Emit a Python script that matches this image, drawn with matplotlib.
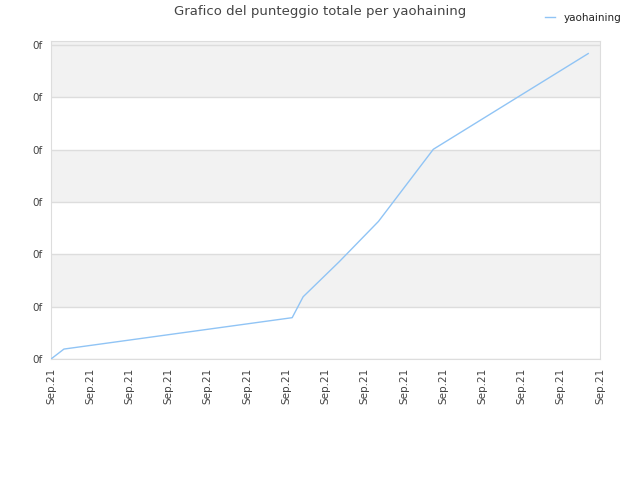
import matplotlib
matplotlib.use("Agg")
import matplotlib.pyplot as plt
import numpy as np

# values (x in tick units, y in gridline units)
xs = [0, 0.33, 6.15, 6.43, 7.35, 8.35, 9.75, 13.7]
ys = [0, 0.19, 0.79, 1.19, 1.86, 2.63, 4.01, 5.84]
xlabels = ["Sep.21"] * 15
ylabels = ["0f"] * 7
series_name = "yaohaining"
title = "Grafico del punteggio totale per yaohaining"

fig = plt.figure(figsize=(6.4, 4.8), dpi=100)
ax = fig.add_axes([51/640, 1-359/480, 549/640, 318/480])

ymax = 6.08
# alternating bands (top strip above the last gridline is grey too)
for i in range(1, 7, 2):
  ax.axhspan(i, i+1, color="#f2f2f2", zorder=0, lw=0)
ax.axhspan(6, ymax, color="#f2f2f2", zorder=0, lw=0)
for i in range(7):
  ax.axhline(i, color="#dddddd", lw=1, zorder=1)

ax.plot(xs, ys, color="#90c4f5", lw=1, zorder=3, label=series_name)

ax.set_xlim(0, 14)
ax.set_ylim(0, ymax)
ax.set_xticks(np.arange(15))
ax.set_xticklabels(xlabels, rotation=90, fontsize=7.5, color="#444444")
ax.set_yticks(np.arange(7))
ax.set_yticklabels(ylabels, fontsize=7.5, color="#444444")
ax.tick_params(length=0, pad=6)
for s in ax.spines.values():
  s.set_color("#dddddd")

fig.text(0.5, 1-12/480, title, ha="center", va="center", fontsize=9.5, color="#444444")
leg = fig.legend(loc="upper right", bbox_to_anchor=(0.985, 0.993), frameon=False,
                 fontsize=7.5, handlelength=1.0, handletextpad=0.8)
for t in leg.get_texts():
  t.set_color("#222222")

fig.savefig("out.png", dpi=100)
